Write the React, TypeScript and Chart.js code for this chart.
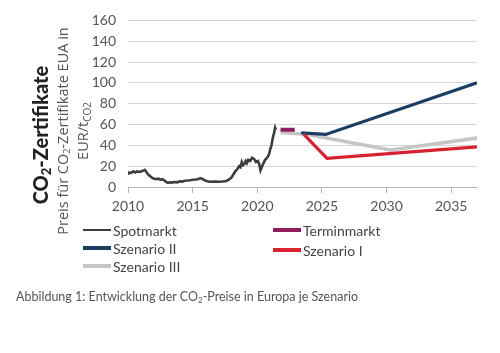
import React, { useEffect, useRef } from "react";
import { Chart, registerables } from "chart.js";

Chart.register(...registerables);

// ---- Data ----
const spotYears = [2010.0, 2010.1, 2010.25, 2010.4, 2010.55, 2010.7, 2010.85, 2011.0, 2011.15, 2011.3, 2011.45, 2011.6, 2011.75, 2011.9, 2012.05, 2012.2, 2012.35, 2012.5, 2012.65, 2012.8, 2012.95, 2013.1, 2013.25, 2013.4, 2013.6, 2013.8, 2014.0, 2014.2, 2014.4, 2014.6, 2014.8, 2015.0, 2015.2, 2015.4, 2015.6, 2015.8, 2016.0, 2016.15, 2016.4, 2016.7, 2017.0, 2017.3, 2017.6, 2017.8, 2018.0, 2018.15, 2018.3, 2018.45, 2018.6, 2018.7, 2018.8, 2018.9, 2019.0, 2019.1, 2019.2, 2019.3, 2019.45, 2019.6, 2019.75, 2019.9, 2020.05, 2020.15, 2020.25, 2020.35, 2020.45, 2020.6, 2020.75, 2020.9, 2021.0, 2021.1, 2021.2, 2021.3, 2021.38, 2021.45];
const spotValues = [12, 14, 13.5, 15, 14, 15, 14.5, 15, 15.5, 16.5, 14, 11.5, 10, 8.5, 8, 7.5, 8, 7, 7.5, 6.5, 5, 4, 4.5, 4.2, 4.8, 4.5, 5.5, 5.2, 6, 6.2, 6.5, 7, 7.2, 7.5, 8.5, 7.5, 6, 5.5, 5, 5.2, 5, 5.3, 5.8, 7, 9, 12, 15, 17, 20, 19, 24, 21, 22, 25, 23, 26, 25, 28, 27, 24, 25, 22, 16, 19, 22, 26, 28, 31, 36, 40, 47, 52, 57, 55];

const terminYears = [2021.8, 2022.9];
const terminValues = [55, 55];

const sz1Years = [2023.6, 2025.4, 2037];
const sz1Values = [50.5, 27.5, 38.5];

const sz2Years = [2023.4, 2025.3, 2037];
const sz2Values = [52, 50.5, 100];

const sz3Years = [2021.8, 2023.9, 2030.3, 2037];
const sz3Values = [52.5, 50.5, 35.5, 47];

const xTicks = [2010, 2015, 2020, 2025, 2030, 2035];
const yMax = 160;
const yStep = 20;

const seriesNames = ["Spotmarkt", "Terminmarkt", "Szenario I", "Szenario II", "Szenario III"];
const seriesColors = ["#3d3d3d", "#8e1d5c", "#d7222f", "#1d3e64", "#c6c6c6"];
const seriesWidths = [2.6, 4, 3.2, 3.2, 3.6];

const toXY = (xs: number[], ys: number[]) => xs.map((x, i) => ({ x, y: ys[i] }));

const FONT = "Lato, 'Open Sans', sans-serif";
const subStyle = (size: number): React.CSSProperties => ({ fontSize: size, lineHeight: 0, verticalAlign: "-0.25em" });

function LegendItem({ name, color, width, left, top }: { name: string; color: string; width: number; left: number; top: number }) {
  return (
    <div style={{ position: "absolute", left, top: top - 9, height: 18, display: "flex", alignItems: "center", whiteSpace: "nowrap" }}>
      <div style={{ width: 28, height: width, background: color, marginRight: 2 }} />
      <span style={{ fontFamily: FONT, fontSize: 14, color: "#444" }}>{name}</span>
    </div>
  );
}

export default function App() {
  const canvasRef = useRef<HTMLCanvasElement | null>(null);

  useEffect(() => {
    if (!canvasRef.current) return;
    const dataSets = [
      toXY(spotYears, spotValues),
      toXY(terminYears, terminValues),
      toXY(sz1Years, sz1Values),
      toXY(sz2Years, sz2Values),
      toXY(sz3Years, sz3Values),
    ];
    const chart = new Chart(canvasRef.current, {
      type: "line",
      data: {
        datasets: dataSets.map((d, i) => ({
          label: seriesNames[i],
          data: d,
          borderColor: seriesColors[i],
          backgroundColor: seriesColors[i],
          borderWidth: seriesWidths[i],
          pointRadius: 0,
          tension: 0,
          fill: false,
        })),
      },
      options: {
        animation: false,
        responsive: true,
        maintainAspectRatio: false,
        layout: { padding: { left: 0, right: 23, top: 17, bottom: 0 } },
        plugins: { legend: { display: false }, tooltip: { enabled: false } },
        scales: {
          x: {
            type: "linear",
            min: 2010,
            max: 2037,
            afterBuildTicks: (scale: any) => {
              scale.ticks = xTicks.map((v) => ({ value: v }));
            },
            afterFit: (scale: any) => {
              scale.height = 38;
            },
            ticks: {
              callback: (v: any) => String(v),
              color: "#555",
              font: { family: FONT, size: 14 },
              padding: 5,
              maxRotation: 0,
            },
            grid: { drawOnChartArea: false, drawTicks: true, tickLength: 6, color: "#b5b5b5" },
            border: { display: true, color: "#b5b5b5" },
          },
          y: {
            min: 0,
            max: yMax,
            afterFit: (scale: any) => {
              scale.width = 128;
            },
            ticks: {
              stepSize: yStep,
              color: "#555",
              font: { family: FONT, size: 14 },
              padding: 12,
            },
            grid: { color: "#d6d6d6", drawTicks: false },
            border: { display: false },
          },
        },
      },
    });
    return () => chart.destroy();
  }, []);

  return (
    <div style={{ position: "absolute", left: 0, top: 0, width: 500, height: 353, background: "#fff", overflow: "hidden" }}>
      <div style={{ position: "absolute", left: 0, top: 0, width: 500, height: 225 }}>
        <canvas ref={canvasRef} />
      </div>
      {/* Bold chart title, rotated */}
      <div
        style={{
          position: "absolute",
          left: 40,
          top: 135,
          transform: "translate(-50%, -50%) rotate(-90deg)",
          fontFamily: FONT,
          fontWeight: 900,
          fontSize: 20,
          lineHeight: "22px",
          color: "#222",
          whiteSpace: "nowrap",
        }}
      >
        CO<sub style={subStyle(13)}>2</sub>-Zertifikate
      </div>
      {/* Axis title, rotated */}
      <div
        style={{
          position: "absolute",
          left: 73,
          top: 131,
          transform: "translate(-50%, -50%) rotate(-90deg)",
          fontFamily: "'Open Sans', sans-serif",
          fontSize: 14.5,
          lineHeight: "20px",
          color: "#555",
          whiteSpace: "nowrap",
          textAlign: "center",
        }}
      >
        Preis für CO<sub style={subStyle(9)}>2</sub>-Zertifikate EUA in
        <br />
        EUR/t<sub style={subStyle(10)}>CO2</sub>
      </div>
      <LegendItem name={seriesNames[0]} color={seriesColors[0]} width={2} left={83} top={230} />
      <LegendItem name={seriesNames[3]} color={seriesColors[3]} width={4} left={83} top={248} />
      <LegendItem name={seriesNames[4]} color={seriesColors[4]} width={4} left={83} top={266} />
      <LegendItem name={seriesNames[1]} color={seriesColors[1]} width={4} left={273} top={230} />
      <LegendItem name={seriesNames[2]} color={seriesColors[2]} width={4} left={273} top={250} />
      <div
        style={{
          position: "absolute",
          left: 16,
          top: 289,
          fontFamily: FONT,
          fontSize: 12.5,
          color: "#555",
          whiteSpace: "nowrap",
        }}
      >
        Abbildung 1: Entwicklung der CO<sub style={subStyle(8)}>2</sub>-Preise in Europa je Szenario
      </div>
    </div>
  );
}
